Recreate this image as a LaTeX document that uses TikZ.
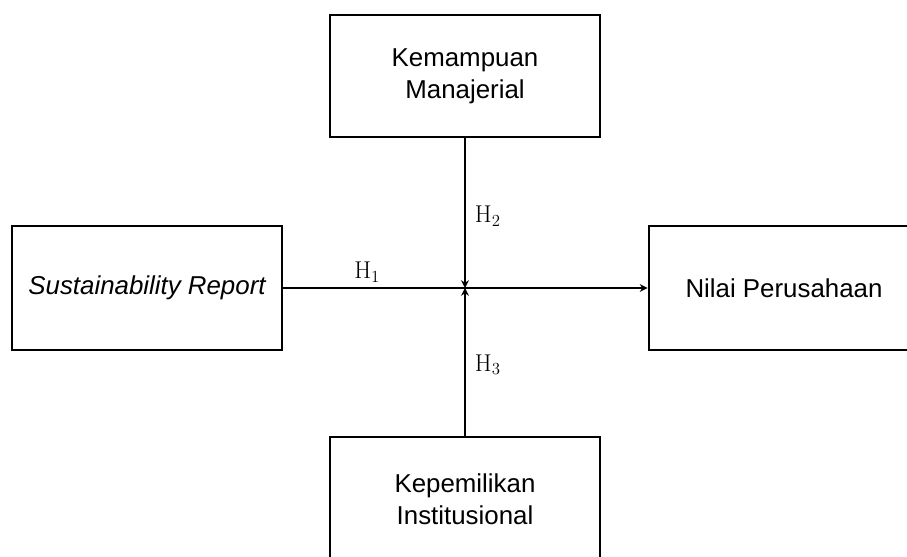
\documentclass[tikz,border=0pt]{standalone}
\usepackage[no-math]{fontspec}
\setmainfont{Liberation Sans}
\usepackage{amsmath}
\usetikzlibrary{arrows.meta, positioning}

\begin{document}
\begin{tikzpicture}[
    varbox/.style = {
      rectangle, draw=black, line width=2.1pt,
      minimum width=6.75cm, minimum height=3.1cm,
      align=center, font=\fontsize{18.4}{22.7}\selectfont
    },
    arrow/.style = {-{Stealth[length=5.5pt,width=5.5pt]}, line width=1.5pt},
    hyp/.style   = {font=\fontsize{16.5}{19}\selectfont}
  ]
  \useasboundingbox (0,0) rectangle (22.675,-13.925);
  \clip (0,0) rectangle (22.675,-13.925);

  % Variables
  \node[varbox, minimum height=3.05cm] at (11.625, -1.9)   (manajerial) {Kemampuan\\Manajerial};
  \node[varbox]                        at (3.675,  -7.2)   (sr)         {\itshape Sustainability Report};
  \node[varbox]                        at (19.6,   -7.2)   (nilai)      {Nilai Perusahaan};
  \node[varbox]                        at (11.625, -12.475)(institusi)  {Kepemilikan\\Institusional};

  % Junction of the moderating paths
  \coordinate (hub) at (11.625, -7.2);

  % Arrows
  \draw[arrow] (sr)         -- node[pos=0.23, above, hyp]{$\mathrm{H}_1$} (nilai);
  \draw[arrow] (manajerial) -- node[pos=0.52, right=3pt, hyp]{$\mathrm{H}_2$} (hub);
  \draw[arrow] (institusi)  -- node[pos=0.48, right=3pt, hyp]{$\mathrm{H}_3$} (hub);
\end{tikzpicture}
\end{document}
